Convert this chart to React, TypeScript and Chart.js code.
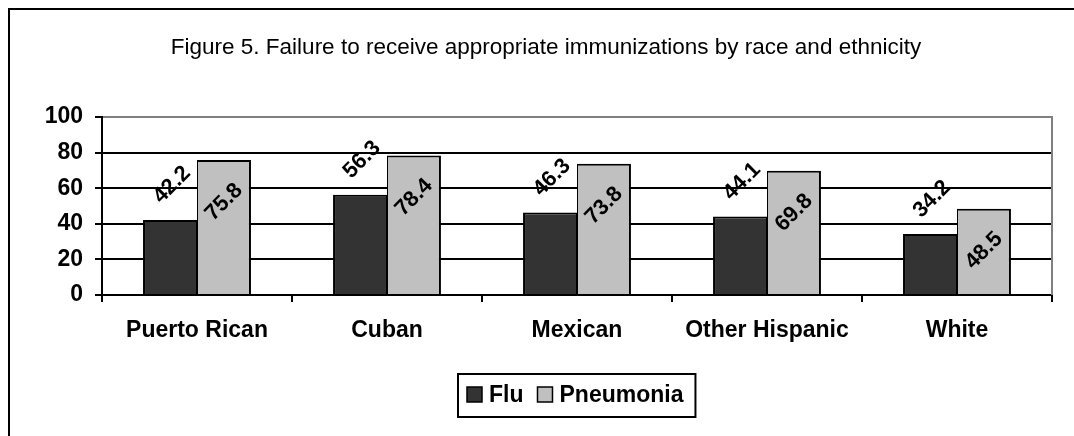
import React, { useEffect, useRef } from "react";
import { Chart, registerables } from "chart.js";

Chart.register(...registerables);

const categories = ["Puerto Rican", "Cuban", "Mexican", "Other Hispanic", "White"];
const fluValues = [42.2, 56.3, 46.3, 44.1, 34.2];
const pneumoniaValues = [75.8, 78.4, 73.8, 69.8, 48.5];
const seriesNames = ["Flu", "Pneumonia"];
const seriesColors = ["#333333", "#C0C0C0"];
const yTickValues = [0, 20, 40, 60, 80, 100];
const titleText =
  "Figure 5. Failure to receive appropriate immunizations by race and ethnicity";

const FONT = "'Liberation Sans', Arial, Helvetica, sans-serif";

const decorPlugin = {
  id: "decor",
  beforeDraw(chart: any) {
    const ctx = chart.ctx;
    ctx.save();
    ctx.fillStyle = "#ffffff";
    ctx.fillRect(0, 0, chart.width, chart.height);
    ctx.restore();
  },
  afterDraw(chart: any) {
    const ctx = chart.ctx;
    const a = chart.chartArea;
    ctx.save();
    // outer frame (left and top visible)
    ctx.fillStyle = "#000";
    ctx.fillRect(8, 8, chart.width - 8, 2);
    ctx.fillRect(8, 8, 2, chart.height - 8);

    // right plot-area border
    ctx.strokeStyle = "#808080";
    ctx.lineWidth = 2;
    ctx.beginPath();
    ctx.moveTo(a.right, a.top - 1);
    ctx.lineTo(a.right, a.bottom);
    ctx.stroke();

    // title
    ctx.fillStyle = "#000";
    ctx.font = `22.5px ${FONT}`;
    ctx.textAlign = "center";
    ctx.textBaseline = "alphabetic";
    ctx.fillText(titleText, 546, 54);

    // data labels
    ctx.font = `bold 22px ${FONT}`;
    ctx.textBaseline = "middle";
    ctx.textAlign = "center";
    chart.data.datasets.forEach((ds: any, di: number) => {
      const meta = chart.getDatasetMeta(di);
      meta.data.forEach((bar: any, i: number) => {
        const v = ds.data[i] as number;
        const dy = di === 0 ? -35 : 42;
        ctx.save();
        ctx.translate(bar.x + (di === 0 ? 2 : 0), bar.y + dy);
        ctx.rotate(-Math.PI / 4);
        ctx.fillText(v.toFixed(1), 0, 0);
        ctx.restore();
      });
    });

    // legend
    ctx.font = `bold 23px ${FONT}`;
    const sq = 15;
    const gapTxt = 7;
    const gapItem = 14;
    const padL = 9;
    const padR = 12;
    const widths = seriesNames.map((n) => ctx.measureText(n).width);
    let total = padL + padR + gapItem * (seriesNames.length - 1);
    widths.forEach((w) => (total += sq + gapTxt + w));
    const cx = (a.left + a.right) / 2;
    const left = Math.round(cx - total / 2);
    const top = 374;
    const h = 43;
    ctx.strokeStyle = "#000";
    ctx.lineWidth = 2;
    ctx.strokeRect(left, top, total, h);
    let x = left + padL;
    const midY = top + h / 2;
    seriesNames.forEach((n, i) => {
      ctx.fillStyle = seriesColors[i];
      ctx.fillRect(x, midY - sq / 2 - 1, sq, sq);
      ctx.lineWidth = 1.5;
      ctx.strokeStyle = "#000";
      ctx.strokeRect(x, midY - sq / 2 - 1, sq, sq);
      ctx.fillStyle = "#000";
      ctx.textAlign = "left";
      ctx.textBaseline = "middle";
      ctx.fillText(n, x + sq + gapTxt, midY);
      x += sq + gapTxt + widths[i] + gapItem;
    });
    ctx.restore();
  },
};

export default function App() {
  const ref = useRef<HTMLCanvasElement | null>(null);

  useEffect(() => {
    if (!ref.current) return;
    const tickFont = { family: FONT, size: 23, weight: "bold" as const };
    const chart = new Chart(ref.current, {
      type: "bar",
      data: {
        labels: categories,
        datasets: [
          {
            label: seriesNames[0],
            data: fluValues,
            backgroundColor: seriesColors[0],
            borderColor: "#000",
            borderWidth: { left: 2, top: 2, right: 1, bottom: 0 },
            borderSkipped: "start",
            categoryPercentage: 0.568,
            barPercentage: 1,
          },
          {
            label: seriesNames[1],
            data: pneumoniaValues,
            backgroundColor: seriesColors[1],
            borderColor: "#000",
            borderWidth: { left: 1, top: 2, right: 2, bottom: 0 },
            borderSkipped: "start",
            categoryPercentage: 0.568,
            barPercentage: 1,
          },
        ],
      },
      options: {
        responsive: false,
        animation: false,
        devicePixelRatio: 1,
        layout: { padding: { left: 0, right: 22, top: 117, bottom: 0 } },
        plugins: {
          legend: { display: false },
          title: { display: false },
          tooltip: { enabled: false },
        },
        scales: {
          x: {
            grid: {
              offset: true,
              drawOnChartArea: false,
              drawTicks: true,
              tickLength: 7,
              tickColor: "#000",
              lineWidth: 2,
            },
            border: { display: true, color: "#000", width: 2 },
            ticks: {
              color: "#000",
              font: tickFont,
              padding: 15,
              maxRotation: 0,
              autoSkip: false,
            },
            afterFit(s: any) {
              s.height = 141;
            },
          },
          y: {
            min: 0,
            max: 100,
            afterBuildTicks(s: any) {
              s.ticks = yTickValues.map((v) => ({ value: v }));
            },
            ticks: {
              stepSize: 20,
              color: "#000",
              font: tickFont,
              padding: 12,
            },
            grid: {
              color: (c: any) => (c.tick && c.tick.value === 100 ? "#808080" : "#000"),
              lineWidth: 2,
              tickColor: "#000",
              tickLength: 7,
            },
            border: { display: true, color: "#000", width: 2 },
            afterFit(s: any) {
              s.width = 102;
            },
          },
        },
      },
      plugins: [decorPlugin],
    });
    return () => chart.destroy();
  }, []);

  return (
    <div
      style={{
        position: "fixed",
        left: 0,
        top: 0,
        width: "1074px",
        height: "436px",
        overflow: "hidden",
        background: "#fff",
      }}
    >
      <canvas ref={ref} width={1074} height={436} style={{ display: "block", width: "1074px", height: "436px" }} />
    </div>
  );
}
